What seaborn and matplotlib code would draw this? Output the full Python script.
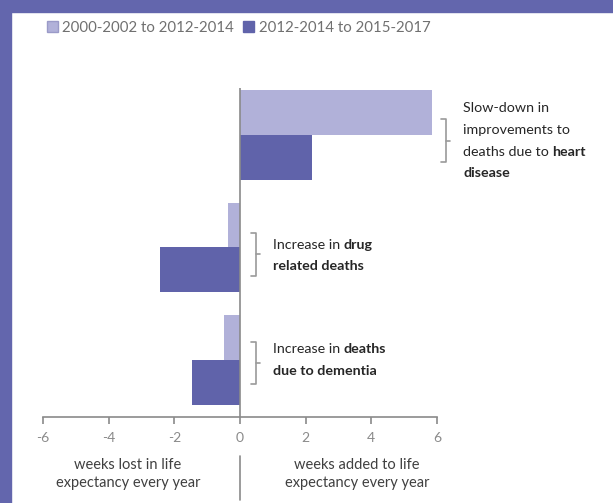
import matplotlib.pyplot as plt
import pandas as pd
import seaborn as sns
from matplotlib.lines import Line2D
from matplotlib.patches import Patch, Rectangle

# Data
causes = ["Heart disease", "Drug related deaths", "Dementia"]
period_early = "2000-2002 to 2012-2014"
period_late = "2012-2014 to 2015-2017"
weeks_early = [5.85, -0.37, -0.5]
weeks_late = [2.2, -2.45, -1.45]
xticks = [-6, -4, -2, 0, 2, 4, 6]

LIGHT = "#b1b1d9"
DARK = "#6063aa"
FRAME = "#6366ad"
GREY = "#8a8a8a"
TXT = "#262626"
FONT = ["Lato", "DejaVu Sans"]
W, H = 613, 503


def fx(x):
    return x / W


def fy(y):
    return 1 - y / H


df = pd.DataFrame(
    {
        "cause": causes * 2,
        "period": [period_early] * 3 + [period_late] * 3,
        "weeks": weeks_early + weeks_late,
    }
)

sns.set_style("white")
plt.rcParams["font.family"] = FONT

fig = plt.figure(figsize=(W / 100, H / 100), dpi=100)
ax = fig.add_axes([fx(43), fy(417), fx(437) - fx(43), fy(88) - fy(417)])

sns.barplot(
    data=df,
    x="weeks",
    y="cause",
    hue="period",
    orient="h",
    palette=[LIGHT, DARK],
    saturation=1,
    width=0.8,
    edgecolor="none",
    ax=ax,
)
ax.get_legend().remove()
ax.set_xlim(-6, 6)
ax.set_ylim(2.51, -0.42)
ax.set_xticks(xticks)
ax.set_xticklabels([str(t) for t in xticks])
ax.set_yticks([])
ax.set_xlabel("")
ax.set_ylabel("")
ax.axvline(0, color=GREY, lw=1.2, zorder=3)
for side in ["top", "right", "left"]:
    ax.spines[side].set_visible(False)
ax.spines["bottom"].set_color(GREY)
ax.spines["bottom"].set_linewidth(1.2)
ax.tick_params(axis="x", length=5, width=1.2, color=GREY, labelcolor=GREY,
               labelsize=10, pad=6, bottom=True, direction="out")

# purple frame
fig.patches.append(Rectangle((0, 0), fx(11), 1, transform=fig.transFigure,
                             color=FRAME, zorder=0))
fig.patches.append(Rectangle((0, fy(12)), 1, 1 - fy(12), transform=fig.transFigure,
                             color=FRAME, zorder=0))

# legend
handles = [Patch(facecolor=LIGHT, edgecolor="#9a9ac8"),
           Patch(facecolor=DARK, edgecolor=DARK)]
fig.legend(handles, [period_early, period_late], loc="center left",
           bbox_to_anchor=(fx(33), fy(28)), ncol=2, frameon=False,
           handlelength=0.75, handleheight=0.75, handletextpad=0.3,
           columnspacing=0.6, fontsize=10.8, labelcolor="#707070")

# bottom captions
fig.text(fx(128), fy(474), "weeks lost in life\nexpectancy every year", ha="center",
         va="center", fontsize=10.5, color="#404040", linespacing=1.35)
fig.text(fx(357), fy(474), "weeks added to life\nexpectancy every year", ha="center",
         va="center", fontsize=10.5, color="#404040", linespacing=1.35)
fig.add_artist(Line2D([fx(240), fx(240)], [fy(456), fy(500)], color=GREY, lw=1.2,
                      transform=fig.transFigure))

renderer = fig.canvas.get_renderer()


def rich(x, y, parts, size=10.3):
    for s, w in parts:
        t = fig.text(fx(x), fy(y), s, fontsize=size, fontweight=w, color=TXT,
                     ha="left", va="center")
        x = t.get_window_extent(renderer).x1 + 3.3


def bracket(x, top, bottom):
    mid = (top + bottom) / 2
    xs = [x - 5, x, x, x - 5]
    ys = [top, top, bottom, bottom]
    fig.add_artist(Line2D([fx(v) for v in xs], [fy(v) for v in ys], color="#9a9a9a",
                          lw=1.2, transform=fig.transFigure))
    fig.add_artist(Line2D([fx(x), fx(x + 4)], [fy(mid), fy(mid)], color="#9a9a9a",
                          lw=1.2, transform=fig.transFigure))


bracket(446, 119, 162)
rich(463, 108, [("Slow-down in", "normal")])
rich(463, 130, [("improvements to", "normal")])
rich(463, 152, [("deaths due to", "normal"), ("heart", "bold")])
rich(463, 173, [("disease", "bold")])

bracket(256, 233, 276)
rich(273, 245, [("Increase in", "normal"), ("drug", "bold")])
rich(273, 266, [("related deaths", "bold")])

bracket(256, 342, 384)
rich(273, 349, [("Increase in", "normal"), ("deaths", "bold")])
rich(273, 371, [("due to dementia", "bold")])

fig.savefig("out.png", dpi=100)
